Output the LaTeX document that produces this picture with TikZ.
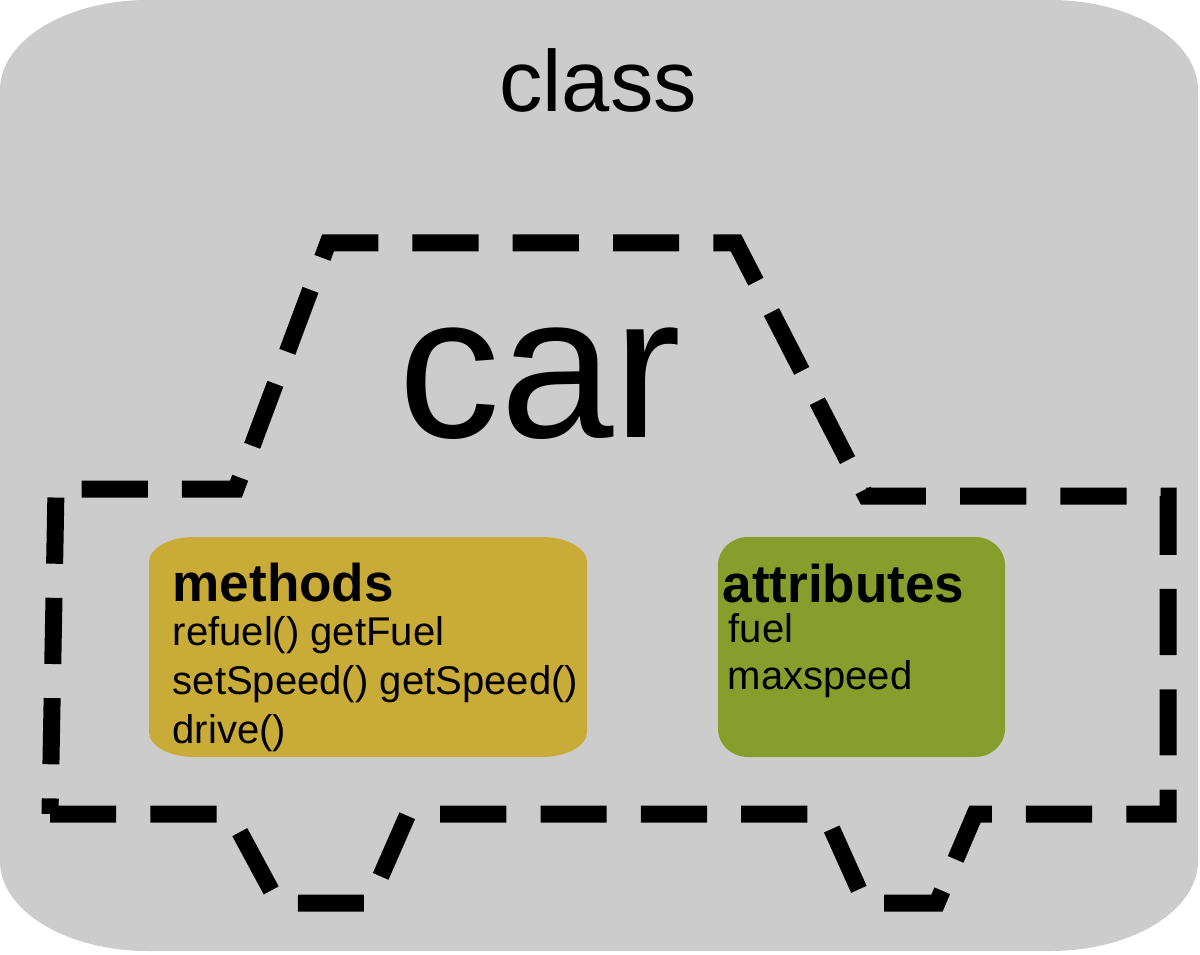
\documentclass[tikz,border=0pt]{standalone}
\usepackage{fontspec}
\setmainfont{Liberation Sans}
\definecolor{classgray}{HTML}{CCCCCC}
\definecolor{methgold}{HTML}{C9AB37}
\definecolor{attrgreen}{HTML}{879E2D}
% box with elliptic corners: fill, x1, y1, x2, y2, rx, ry
\newcommand{\softbox}[7]{%
  \fill[#1] ({#2+#6},#3) -- ({#4-#6},#3)
    arc[start angle=-90, end angle=0, x radius=#6, y radius=#7] -- (#4,{#5-#7})
    arc[start angle=0, end angle=90, x radius=#6, y radius=#7] -- ({#2+#6},#5)
    arc[start angle=90, end angle=180, x radius=#6, y radius=#7] -- (#2,{#3+#7})
    arc[start angle=180, end angle=270, x radius=#6, y radius=#7] -- cycle;}

\begin{document}
\begin{tikzpicture}[x=0.1mm, y=0.1mm,
    title/.style={font=\fontsize{15.1}{17}\selectfont\bfseries, inner sep=0pt, anchor=base west},
    item/.style={font=\fontsize{11.4}{13}\selectfont, inner sep=0pt, anchor=base west},
    outline/.style={line width=1.7mm, dash pattern=on 6.62mm off 3.41mm}]
  \useasboundingbox (0,0) rectangle (1200,954);
  \softbox{classgray}{0}{3}{1198}{954}{148}{90}
  \node (class-label) [anchor=base, inner sep=0pt, font=\fontsize{24.7}{28}\selectfont] at (598,842) {class};

  % the car
  \draw[outline] (50,140) -- (230,140) -- (278,51) -- (369,51) -- (408,140)
    -- (825,140) -- (865,51) -- (937,51) -- (975,140) -- (1168,140)
    -- (1168,458) -- (866,458) -- (736,711) -- (328,711) -- (236,465)
    -- (56,465) -- cycle;
  \node (car-label) [anchor=base, inner sep=0pt, font=\fontsize{58}{60}\selectfont] at (540,517) {car};

  % methods
  \softbox{methgold}{149}{197}{587}{417}{45}{25}
  \node (meth-title) [title] at (172,353) {methods};
  \foreach \txt [count=\i] in {refuel() getFuel, setSpeed() getSpeed(), drive()}
    \node (meth-\i) [item] at (172,{358-\i*49}) {\txt};

  % attributes
  \softbox{attrgreen}{718}{197}{1005}{417}{30}{28}
  \node (attr-title) [title] at (722,352) {attributes};
  \node (attr-1) [item] at (728,312) {fuel};
  \node (attr-2) [item] at (727,265) {maxspeed};
\end{tikzpicture}
\end{document}
